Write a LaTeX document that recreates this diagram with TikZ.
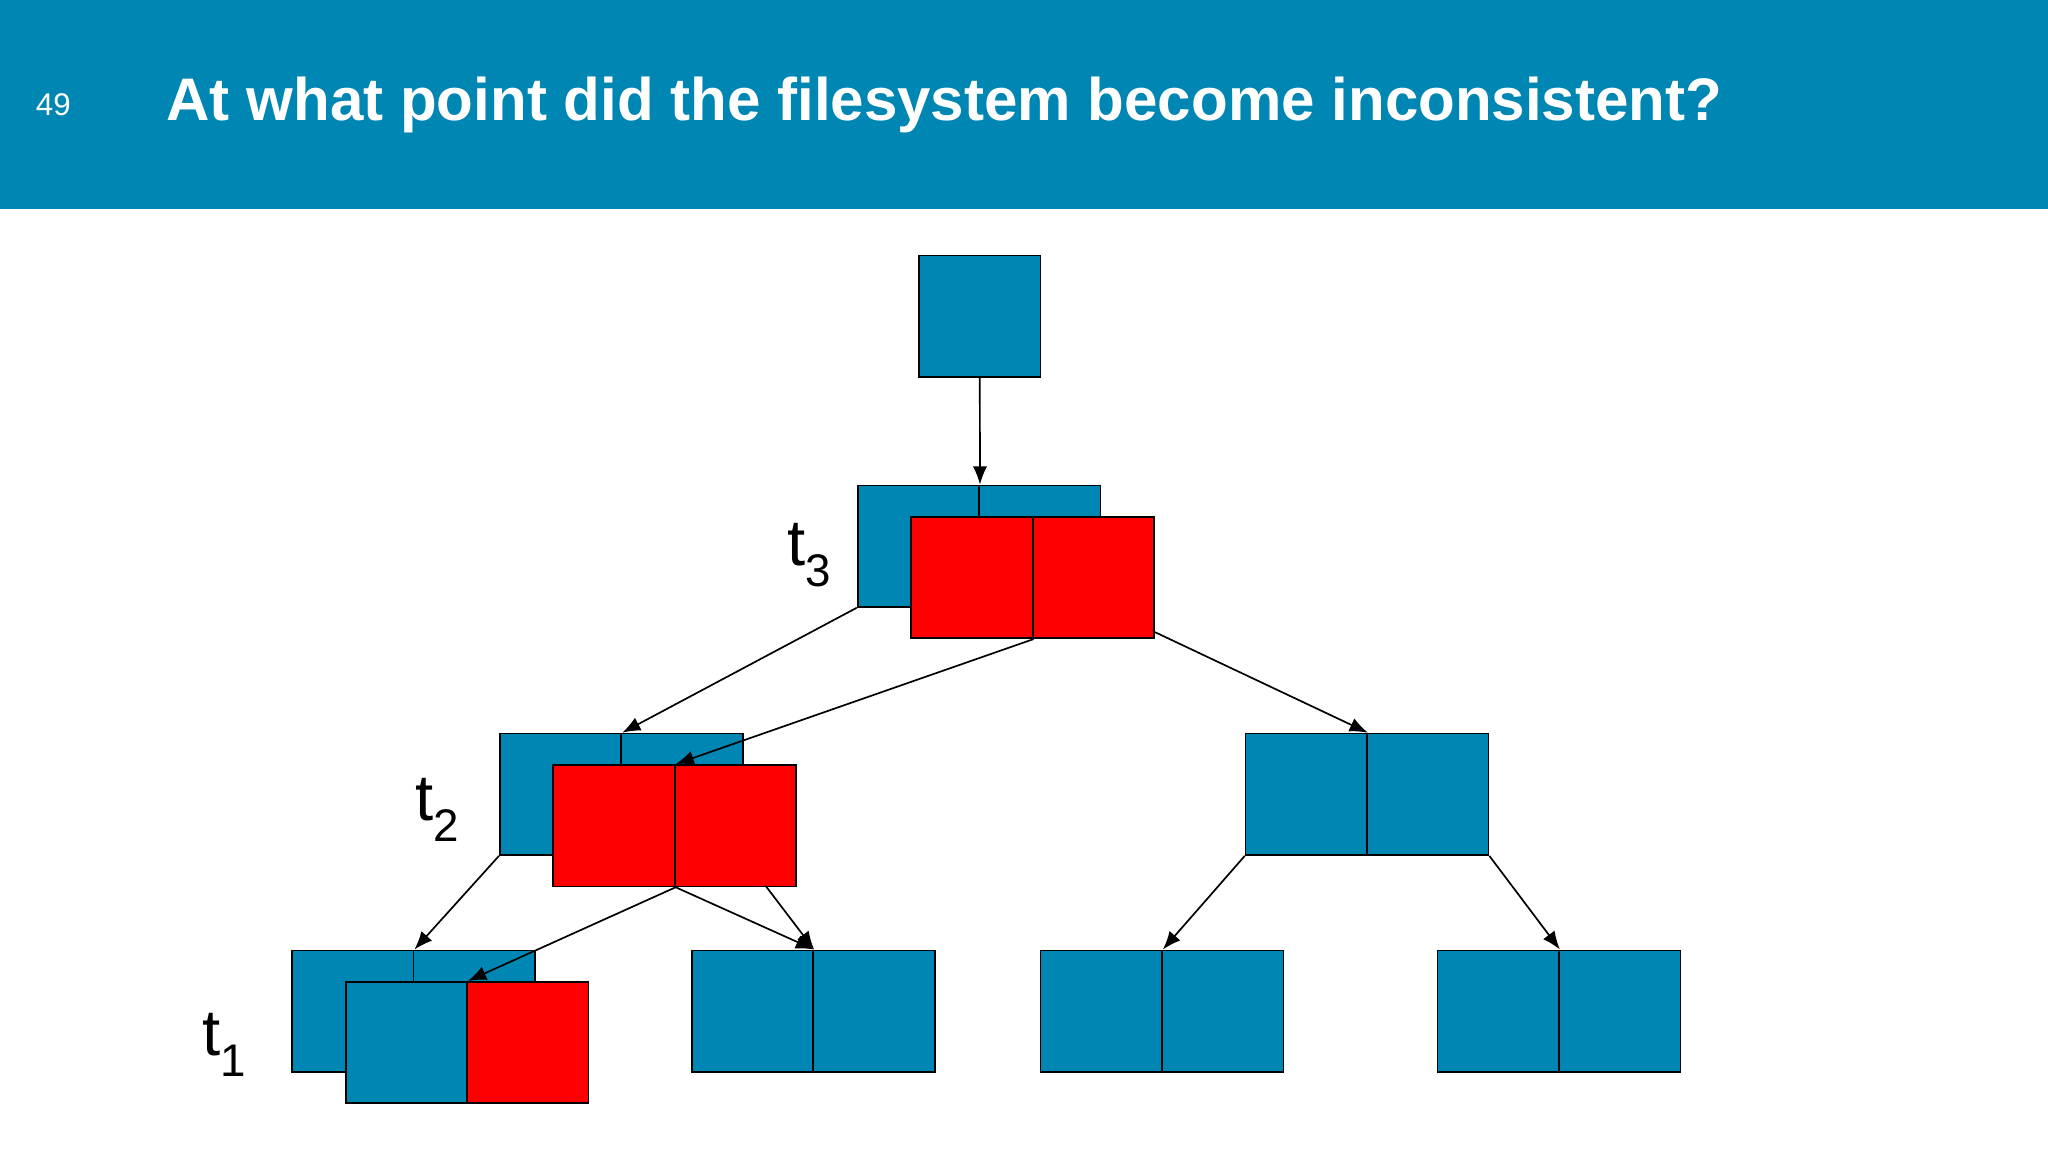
\documentclass[tikz,border=0pt]{standalone}
\usepackage{fontspec}
\setmainfont{Liberation Sans}
\usetikzlibrary{arrows.meta}
\definecolor{hdr}{RGB}{0,134,179}
\definecolor{bl}{RGB}{0,134,179}
\definecolor{rd}{RGB}{255,0,0}
\tikzset{
 cell/.style={draw=black, line width=1.3pt, minimum width=93pt, minimum height=93pt, inner sep=0pt, anchor=north west},
 bcell/.style={cell, fill=bl},
 rcell/.style={cell, fill=rd},
 arr/.style={-{Latex[length=14pt,width=11pt]}, line width=1.3pt},
 tlab/.style={font=\fontsize{50}{60}\selectfont}
}
\begin{document}
\begin{tikzpicture}[x=1pt,y=-1pt]
\useasboundingbox (0,0) rectangle (1568,882);
\fill[white] (0,0) rectangle (1568,882);
\fill[hdr] (0,0) rectangle (1568,160);
\node[text=white, anchor=west, font=\fontsize{24}{28}\selectfont] (num) at (24,80) {49};
\node[text=white, anchor=west, font=\bfseries\fontsize{46}{54}\selectfont] (title) at (124,80) {At what point did the filesystem become inconsistent?};
% root
\node[bcell] (r) at (703,195) {};
% level 2
\node[bcell] (a1) at (656,371) {};
\node[bcell] (a2) at (749,371) {};
\node[rcell] (ra1) at (697,395) {};
\node[rcell] (ra2) at (790,395) {};
\node[tlab] (t3) at (620,425) {t\textsubscript{3}};
% level 3 left
\node[bcell] (b1) at (382,561) {};
\node[bcell] (b2) at (475,561) {};
\node[rcell] (rb1) at (423,585) {};
\node[rcell] (rb2) at (516,585) {};
\node[tlab] (t2) at (335,620) {t\textsubscript{2}};
% level 3 right
\node[bcell] (c1) at (953,561) {};
\node[bcell] (c2) at (1046,561) {};
% level 4
\node[bcell] (d1) at (223,727) {};
\node[bcell] (d2) at (316,727) {};
\node[bcell] (rd1) at (264,751) {};
\node[rcell] (rd2) at (357,751) {};
\node[tlab] (t1) at (172,800) {t\textsubscript{1}};
\node[bcell] (e1) at (529,727) {};
\node[bcell] (e2) at (622,727) {};
\node[bcell] (f1) at (796,727) {};
\node[bcell] (f2) at (889,727) {};
\node[bcell] (g1) at (1100,727) {};
\node[bcell] (g2) at (1193,727) {};
% arrows
\draw[arr] (r.south) -- (a1.north east);
\draw[arr] (a1.south west) -- (b1.north east);
\draw[arr] (ra1.south east) -- (rb1.north east);
\draw[arr] (ra2.east |- 0,484) -- (c1.north east);
\draw[arr] (b1.south west) -- (d1.north east);
\draw[arr] (rb1.south east) -- (rd1.north east);
\draw[arr] (rb1.south east) -- (e1.north east);
\draw[arr] (586,678) -- (e1.north east);
\draw[arr] (c1.south west) -- (f1.north east);
\draw[arr] (c2.south east) -- (g1.north east);
\end{tikzpicture}
\end{document}
